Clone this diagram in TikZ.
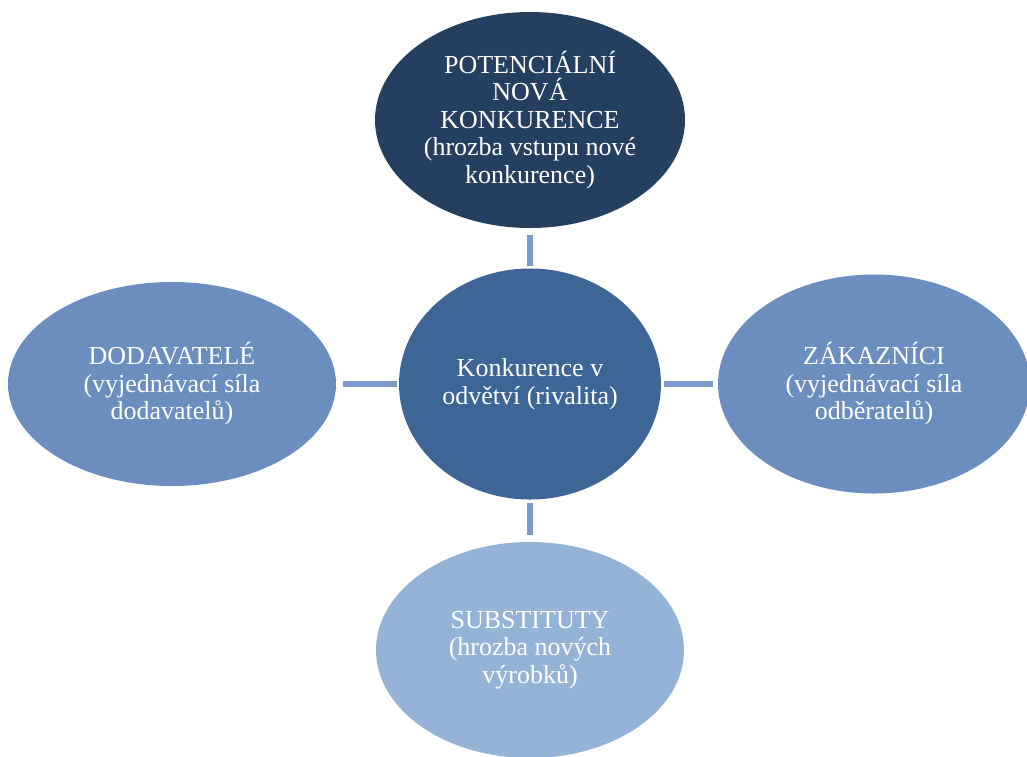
\documentclass[tikz,border=0pt]{standalone}
\usepackage{fontspec}
\setmainfont{Liberation Serif}
\usetikzlibrary{shapes.geometric}
\definecolor{cTop}{HTML}{243F60}
\definecolor{cMid}{HTML}{3D6596}
\definecolor{cSide}{HTML}{6C8EBF}
\definecolor{cBot}{HTML}{95B3D7}
\definecolor{cLine}{HTML}{7B9BCC}
\tikzset{
  force/.style={ellipse, inner sep=0pt, text=white, align=center,
    font=\fontsize{26pt}{27.5pt}\selectfont},
  link/.style={draw=cLine, line width=5.5pt}
}
\begin{document}
\begin{tikzpicture}[x=1pt,y=-1pt]
\useasboundingbox (0,0) rectangle (1027,756);
\fill[white] (0,0) rectangle (1027,756);
\node[force, fill=cTop, minimum width=310pt, minimum height=216pt] (top) at (530,120)
  {POTENCIÁLNÍ\\NOVÁ\\KONKURENCE\\(hrozba vstupu nové\\konkurence)};
\node[force, fill=cMid, minimum width=262pt, minimum height=231pt] (mid) at (530,384)
  {Konkurence v\\odvětví (rivalita)};
\node[force, fill=cSide, minimum width=328pt, minimum height=204pt] (left) at (172,384)
  {DODAVATELÉ\\(vyjednávací síla\\dodavatelů)};
\node[force, fill=cSide, minimum width=312pt, minimum height=219pt] (right) at (874,384)
  {ZÁKAZNÍCI\\(vyjednávací síla\\odběratelů)};
\node[force, fill=cBot, minimum width=308pt, minimum height=216pt] (bot) at (530,650)
  {SUBSTITUTY\\(hrozba nových\\výrobků)};
\draw[link, shorten <=7pt, shorten >=2pt] (top.south) -- (mid.north);
\draw[link, shorten <=7pt, shorten >=2pt] (left.east) -- (mid.west);
\draw[link, shorten <=3pt, shorten >=5pt] (mid.east) -- (right.west);
\draw[link, shorten <=3pt, shorten >=7pt] (mid.south) -- (bot.north);
\end{tikzpicture}
\end{document}
